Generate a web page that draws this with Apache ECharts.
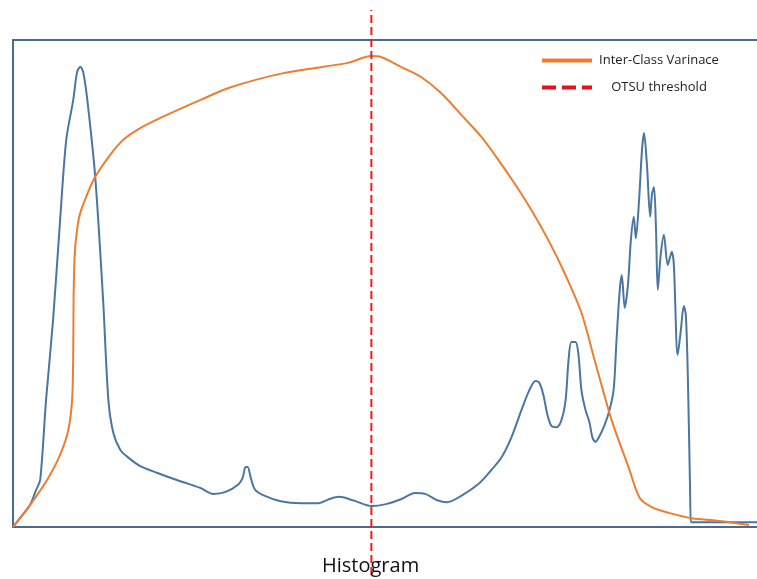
<!DOCTYPE html>
<html lang="en">
<head>
    <meta charset="utf-8"/>
    <title>OTSU threshold</title>
    <script src="https://cdn.jsdelivr.net/npm/echarts@6/dist/echarts.min.js"></script>
</head>
<style>
    html, body { margin: 0; padding: 0; background: #fff; }
</style>
<body>
<div id="main" style="width: 757px;height: 579px;"></div>
<script>
    // histogram, x = grey level (0..255), y = relative count (0..100)
    var histX = [0, 2.4, 5.8, 7.9, 9.3, 11.3, 13.7, 16.1, 18.2, 20.6, 21.9, 23.0, 24.0, 25.4, 28.1, 30.8, 32.6, 34.3,
        36.7, 39.1, 43.5, 49.4, 57.2, 64.1, 68.5, 72.7, 77.1, 78.5, 79.5, 80.2, 81.2, 82.6, 85.3, 91.5, 98.4, 104.5,
        108.0, 111.4, 116.2, 122.7, 127.5, 132.6, 137.4, 140.9, 145.0, 148.4, 153.2, 159.4, 163.5, 166.9, 170.3,
        173.8, 176.5, 178.6, 179.9, 181.3, 182.7, 184.1, 185.8, 187.5, 188.9, 189.9, 190.9, 192.3, 193.3, 194.3,
        195.7, 197.0, 198.1, 199.1, 200.5, 202.2, 203.9, 205.3, 206.3, 207.4, 208.1, 209.1, 210.2, 211.2, 212.2,
        212.9, 214.0, 215.0, 215.7, 216.7, 217.8, 218.4, 219.1, 219.8, 220.4, 221.4, 222.5, 223.8, 225.2, 225.9,
        227.2, 228.3, 229.3, 230.0, 230.7, 231.4, 231.7, 232.0, 255];
    var histY = [0, 1.8, 4.5, 7.6, 9.7, 26.1, 42.5, 63.0, 79.5, 87.7, 93.4, 94.5, 93.4, 87.7, 71.9, 46.6, 26.1, 19.3,
        15.8, 14.4, 12.5, 11.1, 9.4, 8.0, 6.8, 7.2, 8.8, 10.1, 12.3, 12.3, 10.3, 7.8, 6.6, 5.3, 4.9, 4.9,
        5.7, 6.2, 5.5, 4.3, 4.7, 5.7, 7.0, 6.8, 5.5, 5.1, 6.4, 9.0, 11.7, 14.2, 18.3,
        24.0, 28.1, 30.0, 29.6, 27.1, 23.0, 20.7, 20.5, 22.0, 26.1, 34.3, 38.0, 38.0, 35.3, 28.1,
        24.0, 21.6, 18.3, 17.5, 18.7, 20.9, 24.0, 28.1, 38.4, 48.7, 51.7, 45.0, 49.7, 58.9, 63.7,
        59.3, 67.1, 77.4, 80.9, 74.3, 63.7, 68.2, 69.8, 61.0, 48.7, 55.9, 60.0, 53.8, 56.5, 53.8,
        35.3, 40.5, 45.4, 43.5, 30.2, 9.0, 1.0, 1.0, 1.0];

    // inter-class variance (scaled to the same 0..100 range)
    var varX = [0, 5.8, 11.7, 16.1, 18.9, 20.2, 20.6, 20.7, 21.1, 21.9, 23.0, 25.7, 28.1, 33.2, 37.7, 43.5, 50.4,
        64.1, 74.4, 92.5, 114.5, 122.4, 125.8, 132.6, 139.5, 146.3, 154.2, 160.1, 165.9, 171.4, 177.2, 183.0,
        188.5, 194.3, 198.8, 204.6, 210.4, 214.2, 218.3, 224.2, 232.0, 242.3, 251.6];
    var varY = [0, 4.5, 9.7, 14.8, 19.9, 26.1, 36.3, 46.6, 55.9, 61.0, 64.5, 68.8, 71.9, 76.4, 79.5, 81.9, 84.0,
        87.7, 90.3, 93.2, 95.3, 96.7, 96.5, 94.5, 92.4, 89.1, 84.0, 80.1, 75.4, 70.6, 65.1, 58.9,
        52.2, 44.0, 34.3, 22.0, 12.3, 6.0, 4.1, 2.9, 1.8, 1.2, 0.4];

    var threshold = 122.5;
    var legendNames = ['Inter-Class Varinace', 'OTSU threshold'];

    function pairs(xs, ys) {
        var out = [];
        for (var i = 0; i < xs.length; i++) {
            out.push([xs[i], ys[i]]);
        }
        return out;
    }

    var chartDom = document.getElementById('main');
    var myChart = echarts.init(chartDom);
    var font = 'Open Sans, Liberation Sans, sans-serif';

    var hiddenAxis = {
        axisLine: {show: false},
        axisTick: {show: false},
        axisLabel: {show: false},
        splitLine: {show: false}
    };
    var noSymbol = {color: 'transparent', borderWidth: 0, opacity: 0};

    var option = {
        animation: false,
        textStyle: {fontFamily: font},
        title: {
            text: 'Histogram',
            left: 322,
            top: 556,
            padding: 0,
            textStyle: {fontSize: 20, fontWeight: 'normal', color: '#111', fontFamily: font}
        },
        grid: [
            {left: 13, right: -2, top: 40, bottom: 52, outerBoundsMode: 'none',
                show: true, borderColor: '#4a6b8e', borderWidth: 2},
            {left: 13, right: -2, top: 10, bottom: 4, outerBoundsMode: 'none'}
        ],
        legend: {
            orient: 'vertical',
            left: 535,
            top: 49,
            itemWidth: 50,
            itemHeight: 14,
            itemGap: 14,
            data: [
                {name: legendNames[0], itemStyle: noSymbol, lineStyle: {width: 4, color: '#ed7d31'}},
                {name: legendNames[1], itemStyle: noSymbol, lineStyle: {width: 4, color: '#e8101a', type: [14, 6]}}
            ],
            formatter: function (name) {
                return '{t|' + name + '}';
            },
            textStyle: {
                rich: {
                    t: {width: 124, align: 'center', fontSize: 13, color: '#222', fontFamily: font}
                }
            }
        },
        xAxis: [
            Object.assign({type: 'value', gridIndex: 0, min: 0, max: 255}, hiddenAxis),
            Object.assign({type: 'value', gridIndex: 1, min: 0, max: 255}, hiddenAxis)
        ],
        yAxis: [
            Object.assign({type: 'value', gridIndex: 0, min: 0, max: 100}, hiddenAxis),
            Object.assign({type: 'value', gridIndex: 1, min: 0, max: 1}, hiddenAxis)
        ],
        series: [
            {
                name: 'Histogram',
                type: 'line',
                xAxisIndex: 0, yAxisIndex: 0,
                data: pairs(histX, histY),
                symbol: 'none',
                smooth: 0.3,
                lineStyle: {color: '#4a76a1', width: 2}
            },
            {
                name: legendNames[0],
                type: 'line',
                xAxisIndex: 0, yAxisIndex: 0,
                data: pairs(varX, varY),
                symbol: 'none',
                smooth: 0.3,
                itemStyle: {color: '#ed7d31'},
                lineStyle: {color: '#ed7d31', width: 2}
            },
            {
                name: legendNames[1],
                type: 'line',
                xAxisIndex: 1, yAxisIndex: 1,
                data: [[threshold, 0], [threshold, 1]],
                symbol: 'none',
                z: 5,
                itemStyle: {color: '#e8101a'},
                lineStyle: {color: '#f21a1a', width: 2, type: [8, 4]}
            }
        ]
    };

    myChart.setOption(option);
</script>
</body>
</html>
